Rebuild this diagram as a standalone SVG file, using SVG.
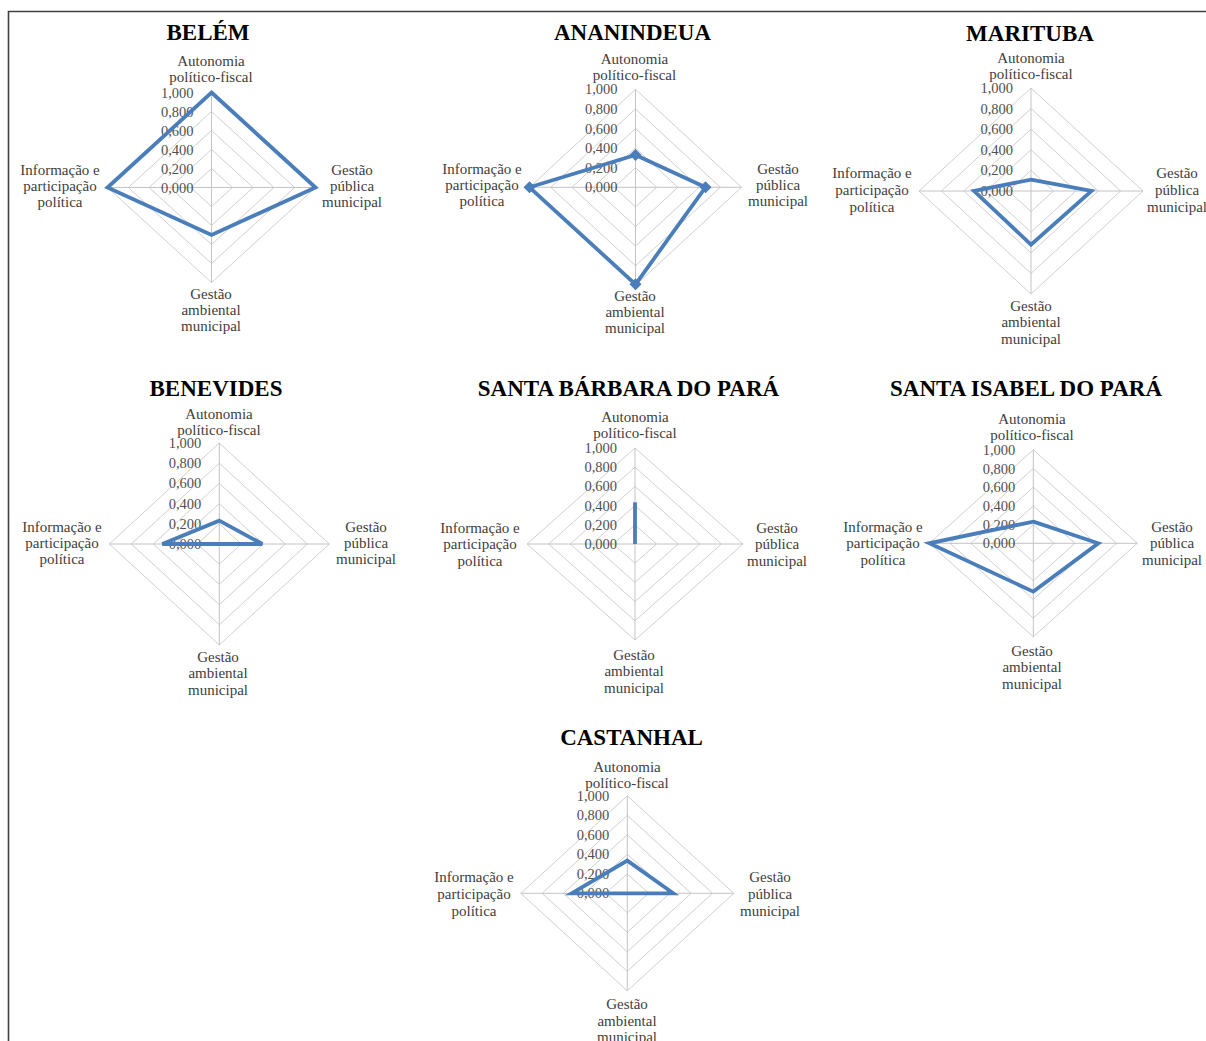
<svg xmlns="http://www.w3.org/2000/svg" width="1206" height="1041" viewBox="0 0 1206 1041">
<style>
text{font-family:"Liberation Serif","Times New Roman",serif}
.t{font-size:23px;font-weight:bold;fill:#000;text-anchor:middle}
.l{font-size:15px;fill:#404040;text-anchor:middle}
.k{font-size:14.5px;fill:#505050;text-anchor:end}
.g{fill:none;stroke:#d0d0d0;stroke-width:1}
.s{stroke:#c4c4c4;stroke-width:1}
.d{fill:none;stroke:#4a7ebb;stroke-width:3.8;stroke-linejoin:miter}
.m{fill:#4a7ebb}
</style>
<rect width="1206" height="1041" fill="#fff"/>
<path d="M8.5,1041 V11.5 H1206" fill="none" stroke="#404040" stroke-width="1.6"/>

<g id="belem">
<text class="t" x="208" y="40">BELÉM</text>
<text class="l" x="211" y="66">Autonomia</text>
<text class="l" x="211" y="82">político-fiscal</text>
<text class="l" x="352" y="175">Gestão</text><text class="l" x="352" y="191">pública</text><text class="l" x="352" y="207">municipal</text>
<text class="l" x="60" y="175">Informação e</text><text class="l" x="60" y="191">participação</text><text class="l" x="60" y="207">política</text>
<text class="l" x="211" y="299">Gestão</text><text class="l" x="211" y="315">ambiental</text><text class="l" x="211" y="331">municipal</text>
<g transform="translate(211.5,187.5)">
<polygon class="g" points="0,-19 20.8,0 0,19 -20.8,0"/><polygon class="g" points="0,-38 41.6,0 0,38 -41.6,0"/><polygon class="g" points="0,-57 62.4,0 0,57 -62.4,0"/><polygon class="g" points="0,-76 83.2,0 0,76 -83.2,0"/><polygon class="g" points="0,-95 104,0 0,95 -104,0"/>
<path class="s" d="M0,-95V95M-104,0H104"/>
<text class="k" x="-18" y="5">0,000</text><text class="k" x="-18" y="-14">0,200</text><text class="k" x="-18" y="-33">0,400</text><text class="k" x="-18" y="-52">0,600</text><text class="k" x="-18" y="-71">0,800</text><text class="k" x="-18" y="-90">1,000</text>
<polygon class="d" points="0,-95 104,0 0,47.5 -104,0"/>
</g>
</g>

<g id="ananindeua">
<text class="t" x="632.5" y="40">ANANINDEUA</text>
<text class="l" x="634.5" y="64">Autonomia</text>
<text class="l" x="634.5" y="80">político-fiscal</text>
<text class="l" x="778" y="174">Gestão</text><text class="l" x="778" y="190">pública</text><text class="l" x="778" y="206">municipal</text>
<text class="l" x="482" y="174">Informação e</text><text class="l" x="482" y="190">participação</text><text class="l" x="482" y="206">política</text>
<text class="l" x="635" y="301">Gestão</text><text class="l" x="635" y="317">ambiental</text><text class="l" x="635" y="333">municipal</text>
<g transform="translate(635.5,187.3)">
<polygon class="g" points="0,-19.6 21.2,0 0,19.6 -21.2,0"/><polygon class="g" points="0,-39.2 42.4,0 0,39.2 -42.4,0"/><polygon class="g" points="0,-58.8 63.6,0 0,58.8 -63.6,0"/><polygon class="g" points="0,-78.4 84.8,0 0,78.4 -84.8,0"/><polygon class="g" points="0,-98 106,0 0,98 -106,0"/>
<path class="s" d="M0,-98V98M-106,0H106"/>
<text class="k" x="-18" y="5">0,000</text><text class="k" x="-18" y="-14.6">0,200</text><text class="k" x="-18" y="-34.2">0,400</text><text class="k" x="-18" y="-53.8">0,600</text><text class="k" x="-18" y="-73.4">0,800</text><text class="k" x="-18" y="-93">1,000</text>
<polygon class="d" points="0,-32.3 70,0 0,97 -106,0"/>
<path class="m" d="M0,-38.3l6,6-6,6-6-6zM70,-6l6,6-6,6-6-6zM0,91l6,6-6,6-6-6zM-106,-6l6,6-6,6-6-6z"/>
</g>
</g>

<g id="marituba">
<text class="t" x="1030" y="41">MARITUBA</text>
<text class="l" x="1031" y="63">Autonomia</text>
<text class="l" x="1031" y="79">político-fiscal</text>
<text class="l" x="1177" y="178">Gestão</text><text class="l" x="1177" y="195">pública</text><text class="l" x="1177" y="212">municipal</text>
<text class="l" x="872" y="178">Informação e</text><text class="l" x="872" y="195">participação</text><text class="l" x="872" y="212">política</text>
<text class="l" x="1031" y="311">Gestão</text><text class="l" x="1031" y="327">ambiental</text><text class="l" x="1031" y="344">municipal</text>
<g transform="translate(1031,191)">
<polygon class="g" points="0,-20.6 22.4,0 0,20.6 -22.4,0"/><polygon class="g" points="0,-41.2 44.8,0 0,41.2 -44.8,0"/><polygon class="g" points="0,-61.8 67.2,0 0,61.8 -67.2,0"/><polygon class="g" points="0,-82.4 89.6,0 0,82.4 -89.6,0"/><polygon class="g" points="0,-103 112,0 0,103 -112,0"/>
<path class="s" d="M0,-103V103M-112,0H112"/>
<text class="k" x="-18" y="5">0,000</text><text class="k" x="-18" y="-15.6">0,200</text><text class="k" x="-18" y="-36.2">0,400</text><text class="k" x="-18" y="-56.8">0,600</text><text class="k" x="-18" y="-77.4">0,800</text><text class="k" x="-18" y="-98">1,000</text>
<polygon class="d" points="0,-11.3 60.5,0 0,53.6 -57,0"/>
</g>
</g>

<g id="benevides">
<text class="t" x="216" y="396">BENEVIDES</text>
<text class="l" x="219" y="419">Autonomia</text>
<text class="l" x="219" y="435">político-fiscal</text>
<text class="l" x="366" y="532">Gestão</text><text class="l" x="366" y="548">pública</text><text class="l" x="366" y="564">municipal</text>
<text class="l" x="62" y="532">Informação e</text><text class="l" x="62" y="548">participação</text><text class="l" x="62" y="564">política</text>
<text class="l" x="218" y="662">Gestão</text><text class="l" x="218" y="678">ambiental</text><text class="l" x="218" y="695">municipal</text>
<g transform="translate(219.3,544)">
<polygon class="g" points="0,-20.2 22,0 0,20.2 -22,0"/><polygon class="g" points="0,-40.4 44,0 0,40.4 -44,0"/><polygon class="g" points="0,-60.6 66,0 0,60.6 -66,0"/><polygon class="g" points="0,-80.8 88,0 0,80.8 -88,0"/><polygon class="g" points="0,-101 110,0 0,101 -110,0"/>
<path class="s" d="M0,-101V101M-110,0H110"/>
<text class="k" x="-18" y="5">0,000</text><text class="k" x="-18" y="-15.2">0,200</text><text class="k" x="-18" y="-35.4">0,400</text><text class="k" x="-18" y="-55.6">0,600</text><text class="k" x="-18" y="-75.8">0,800</text><text class="k" x="-18" y="-96">1,000</text>
<polygon class="d" points="0,-23.3 43,0 0,0 -57,0"/>
</g>
</g>

<g id="santa-barbara">
<text class="t" x="628.5" y="396">SANTA BÁRBARA DO PARÁ</text>
<text class="l" x="635" y="422">Autonomia</text>
<text class="l" x="635" y="438">político-fiscal</text>
<text class="l" x="777" y="533">Gestão</text><text class="l" x="777" y="549">pública</text><text class="l" x="777" y="566">municipal</text>
<text class="l" x="480" y="533">Informação e</text><text class="l" x="480" y="549">participação</text><text class="l" x="480" y="566">política</text>
<text class="l" x="634" y="660">Gestão</text><text class="l" x="634" y="676">ambiental</text><text class="l" x="634" y="693">municipal</text>
<g transform="translate(635,544)">
<polygon class="g" points="0,-19.2 21.6,0 0,19.2 -21.6,0"/><polygon class="g" points="0,-38.4 43.2,0 0,38.4 -43.2,0"/><polygon class="g" points="0,-57.6 64.8,0 0,57.6 -64.8,0"/><polygon class="g" points="0,-76.8 86.4,0 0,76.8 -86.4,0"/><polygon class="g" points="0,-96 108,0 0,96 -108,0"/>
<path class="s" d="M0,-96V96M-108,0H108"/>
<text class="k" x="-18" y="5">0,000</text><text class="k" x="-18" y="-14.2">0,200</text><text class="k" x="-18" y="-33.4">0,400</text><text class="k" x="-18" y="-52.6">0,600</text><text class="k" x="-18" y="-71.8">0,800</text><text class="k" x="-18" y="-91">1,000</text>
<path class="d" d="M0,0V-41.7"/>
</g>
</g>

<g id="santa-isabel">
<text class="t" x="1026" y="396">SANTA ISABEL DO PARÁ</text>
<text class="l" x="1032" y="424">Autonomia</text>
<text class="l" x="1032" y="440">político-fiscal</text>
<text class="l" x="1172" y="532">Gestão</text><text class="l" x="1172" y="548">pública</text><text class="l" x="1172" y="565">municipal</text>
<text class="l" x="883" y="532">Informação e</text><text class="l" x="883" y="548">participação</text><text class="l" x="883" y="565">política</text>
<text class="l" x="1032" y="656">Gestão</text><text class="l" x="1032" y="672">ambiental</text><text class="l" x="1032" y="689">municipal</text>
<g transform="translate(1033.3,543.3)">
<polygon class="g" points="0,-18.7 20.8,0 0,18.7 -20.8,0"/><polygon class="g" points="0,-37.4 41.6,0 0,37.4 -41.6,0"/><polygon class="g" points="0,-56.1 62.4,0 0,56.1 -62.4,0"/><polygon class="g" points="0,-74.8 83.2,0 0,74.8 -83.2,0"/><polygon class="g" points="0,-93.5 104,0 0,93.5 -104,0"/>
<path class="s" d="M0,-93.5V93.5M-104,0H104"/>
<text class="k" x="-18" y="5">0,000</text><text class="k" x="-18" y="-13.7">0,200</text><text class="k" x="-18" y="-32.4">0,400</text><text class="k" x="-18" y="-51.1">0,600</text><text class="k" x="-18" y="-69.8">0,800</text><text class="k" x="-18" y="-88.5">1,000</text>
<polygon class="d" points="0,-21.7 65,0 0,48.3 -104,0"/>
</g>
</g>

<g id="castanhal">
<text class="t" x="631.5" y="745">CASTANHAL</text>
<text class="l" x="627" y="772">Autonomia</text>
<text class="l" x="627" y="788">político-fiscal</text>
<text class="l" x="770" y="882">Gestão</text><text class="l" x="770" y="899">pública</text><text class="l" x="770" y="916">municipal</text>
<text class="l" x="474" y="882">Informação e</text><text class="l" x="474" y="899">participação</text><text class="l" x="474" y="916">política</text>
<text class="l" x="627" y="1009">Gestão</text><text class="l" x="627" y="1026">ambiental</text><text class="l" x="627" y="1042">municipal</text>
<g transform="translate(627.3,893.3)">
<polygon class="g" points="0,-19.5 21.3,0 0,19.5 -21.3,0"/><polygon class="g" points="0,-39 42.6,0 0,39 -42.6,0"/><polygon class="g" points="0,-58.5 63.9,0 0,58.5 -63.9,0"/><polygon class="g" points="0,-78 85.2,0 0,78 -85.2,0"/><polygon class="g" points="0,-97.5 106.5,0 0,97.5 -106.5,0"/>
<path class="s" d="M0,-97.5V97.5M-106.5,0H106.5"/>
<text class="k" x="-18" y="5">0,000</text><text class="k" x="-18" y="-14.5">0,200</text><text class="k" x="-18" y="-34">0,400</text><text class="k" x="-18" y="-53.5">0,600</text><text class="k" x="-18" y="-73">0,800</text><text class="k" x="-18" y="-92.5">1,000</text>
<polygon class="d" points="0,-32.7 46,0 0,0 -55.6,0"/>
</g>
</g>
</svg>
